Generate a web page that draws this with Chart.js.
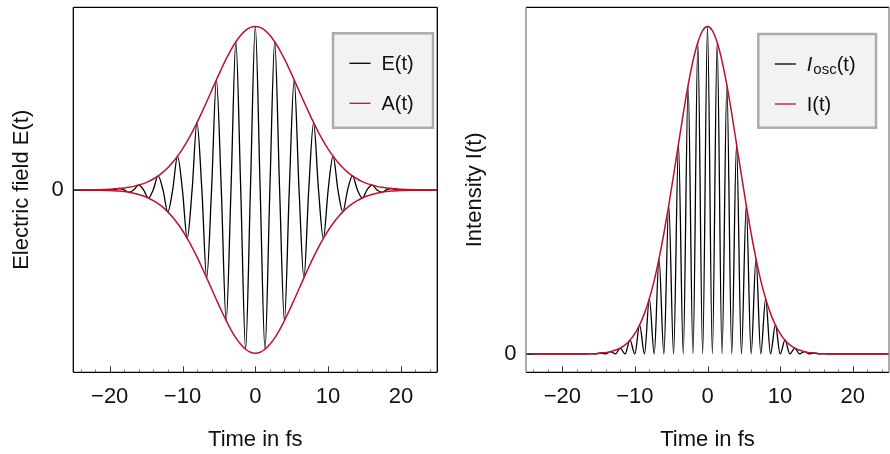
<!DOCTYPE html>
<html>
<head>
<meta charset="utf-8">
<script src="https://cdn.jsdelivr.net/npm/chart.js@4.4.1/dist/chart.umd.min.js"></script>
<style>
  html, body { margin: 0; padding: 0; background: #fff; }
  #wrap { position: relative; width: 890px; height: 454px; overflow: hidden; }
  .panel { position: absolute; top: 0; height: 454px; }
  #pL { left: 0; width: 445px; }
  #pR { left: 453px; width: 437px; }
</style>
</head>
<body>
<div id="wrap">
  <div class="panel" id="pL"><canvas id="cL"></canvas></div>
  <div class="panel" id="pR"><canvas id="cR"></canvas></div>
</div>
<script>
/* ---------------------------------------------------------------------------
 * Pulso de 10 fs: campo E(t) com envelope A(t) (esq.) e intensidade (dir.).
 * Valores: extremos e cruzamentos por zero da portadora.
 * ------------------------------------------------------------------------- */
const timeFs = [
  -25,
  -20.03, -19.36, -18.69, -18.02, -17.36, -16.69, -16.02, -15.35, -14.69, -14.02,
  -13.35, -12.68, -12.02, -11.35, -10.68, -10.01, -9.35, -8.68, -8.01, -7.34,
  -6.68, -6.01, -5.34, -4.67, -4.00, -3.34, -2.67, -2.00, -1.33, -0.67,
  0,
  0.67, 1.33, 2.00, 2.67, 3.34, 4.00, 4.67, 5.34, 6.01, 6.68,
  7.34, 8.01, 8.68, 9.35, 10.01, 10.68, 11.35, 12.02, 12.68, 13.35,
  14.02, 14.69, 15.35, 16.02, 16.69, 17.36, 18.02, 18.69, 19.36, 20.03,
  25,
];

const fieldE = [
  0,
  -0.004, 0, 0.008, 0, -0.015, 0, 0.029, 0, -0.050, 0,
  0.085, 0, -0.135, 0, 0.206, 0, -0.298, 0, 0.411, 0,
  -0.539, 0, 0.673, 0, -0.801, 0, 0.906, 0, -0.976, 0,
  1.000,
  0, -0.976, 0, 0.906, 0, -0.801, 0, 0.673, 0, -0.539,
  0, 0.411, 0, -0.298, 0, 0.206, 0, -0.135, 0, 0.085,
  0, -0.050, 0, 0.029, 0, -0.015, 0, 0.008, 0, -0.004,
  0,
];

const envelopeA = [
  0,
  0.004, 0.006, 0.008, 0.011, 0.015, 0.021, 0.029, 0.038, 0.050, 0.066,
  0.085, 0.108, 0.135, 0.168, 0.206, 0.249, 0.298, 0.352, 0.411, 0.474,
  0.539, 0.606, 0.673, 0.739, 0.801, 0.857, 0.906, 0.946, 0.976, 0.994,
  1.000,
  0.994, 0.976, 0.946, 0.906, 0.857, 0.801, 0.739, 0.673, 0.606, 0.539,
  0.474, 0.411, 0.352, 0.298, 0.249, 0.206, 0.168, 0.135, 0.108, 0.085,
  0.066, 0.050, 0.038, 0.029, 0.021, 0.015, 0.011, 0.008, 0.006, 0.004,
  0,
];

const envelopeLower = [
  0,
  -0.004, -0.006, -0.008, -0.011, -0.015, -0.021, -0.029, -0.038, -0.050, -0.066,
  -0.085, -0.108, -0.135, -0.168, -0.206, -0.249, -0.298, -0.352, -0.411, -0.474,
  -0.539, -0.606, -0.673, -0.739, -0.801, -0.857, -0.906, -0.946, -0.976, -0.994,
  -1.000,
  -0.994, -0.976, -0.946, -0.906, -0.857, -0.801, -0.739, -0.673, -0.606, -0.539,
  -0.474, -0.411, -0.352, -0.298, -0.249, -0.206, -0.168, -0.135, -0.108, -0.085,
  -0.066, -0.050, -0.038, -0.029, -0.021, -0.015, -0.011, -0.008, -0.006, -0.004,
  0,
];

const intensityOsc = [
  0,
  0, 0, 0, 0, 0, 0, 0.001, 0, 0.003, 0,
  0.007, 0, 0.018, 0, 0.042, 0, 0.089, 0, 0.169, 0,
  0.291, 0, 0.454, 0, 0.641, 0, 0.821, 0, 0.952, 0,
  1.000,
  0, 0.952, 0, 0.821, 0, 0.641, 0, 0.454, 0, 0.291,
  0, 0.169, 0, 0.089, 0, 0.042, 0, 0.018, 0, 0.007,
  0, 0.003, 0, 0.001, 0, 0, 0, 0, 0, 0,
  0,
];

const intensityI = [
  0,
  0, 0, 0, 0, 0, 0, 0.001, 0.001, 0.003, 0.004,
  0.007, 0.012, 0.018, 0.028, 0.042, 0.062, 0.089, 0.124, 0.169, 0.224,
  0.291, 0.368, 0.454, 0.546, 0.641, 0.734, 0.821, 0.895, 0.952, 0.988,
  1.000,
  0.988, 0.952, 0.895, 0.821, 0.734, 0.641, 0.546, 0.454, 0.368, 0.291,
  0.224, 0.169, 0.124, 0.089, 0.062, 0.042, 0.028, 0.018, 0.012, 0.007,
  0.004, 0.003, 0.001, 0.001, 0, 0, 0, 0, 0, 0,
  0,
];

const xMajorTicks = [-20, -10, 0, 10, 20];
const xTickLabels = ["\u221220", "\u221210", "0", "10", "20"];
const xMinorTicks = [-24, -22, -18, -16, -14, -12, -8, -6, -4, -2, 2, 4, 6, 8, 12, 14, 16, 18, 22, 24];
const yTickValues = [0];
const yTickLabels = ["0"];

const FONT = "'Liberation Sans', Arial, sans-serif";
const RED = "#b8142e";
const INK = "#111";

const pts = (ys) => timeFs.map((t, i) => ({ x: t, y: ys[i] }));

/* ------------------------------ Plugins ----------------------------------- */
const framePlugin = {
  id: "frame",
  afterDraw(chart, args, o) {
    const { ctx, chartArea: a, scales: { x, y } } = chart;
    ctx.save();
    ctx.lineWidth = 1;
    // ticks para dentro
    ctx.strokeStyle = "#888";
    for (const v of xMinorTicks) {
      const px = Math.round(x.getPixelForValue(v)) + 0.5;
      ctx.beginPath(); ctx.moveTo(px, a.bottom); ctx.lineTo(px, a.bottom - 3); ctx.stroke();
    }
    ctx.strokeStyle = "#333";
    for (const v of xMajorTicks) {
      const px = Math.round(x.getPixelForValue(v)) + 0.5;
      ctx.beginPath(); ctx.moveTo(px, a.bottom); ctx.lineTo(px, a.bottom - 6); ctx.stroke();
    }
    for (const v of yTickValues) {
      const py = Math.round(y.getPixelForValue(v)) + 0.5;
      ctx.beginPath(); ctx.moveTo(a.left, py); ctx.lineTo(a.left + 7, py); ctx.stroke();
    }
    // moldura
    ctx.lineWidth = 1.3;
    const side = (c, x1, y1, x2, y2) => {
      ctx.strokeStyle = c; ctx.beginPath(); ctx.moveTo(x1, y1); ctx.lineTo(x2, y2); ctx.stroke();
    };
    side(o.top, a.left, a.top, a.right, a.top);
    side(o.bottom, a.left, a.bottom, a.right, a.bottom);
    side(o.left, a.left, a.top, a.left, a.bottom);
    side(o.right, a.right, a.top, a.right, a.bottom);
    ctx.restore();
  },
};

const legendPlugin = {
  id: "boxLegend",
  afterDraw(chart, args, o) {
    const { ctx, chartArea: a } = chart;
    const bx = a.right - o.offsetRight - o.width;
    const by = a.top + o.offsetTop;
    ctx.save();
    ctx.fillStyle = "#f2f2f2";
    ctx.fillRect(bx, by, o.width, o.height);
    ctx.strokeStyle = "#ababab";
    ctx.lineWidth = 2.5;
    ctx.strokeRect(bx, by, o.width, o.height);
    o.items.forEach((it, i) => {
      const cy = by + 30 + i * 40;
      ctx.strokeStyle = it.color;
      ctx.lineWidth = 1.3;
      ctx.beginPath(); ctx.moveTo(bx + 16.5, cy); ctx.lineTo(bx + 37.5, cy); ctx.stroke();
      let tx = bx + 48.5;
      ctx.fillStyle = INK;
      ctx.textBaseline = "alphabetic";
      for (const p of it.parts) {
        ctx.font = `${p.italic ? "italic " : ""}${p.sub ? 15 : 20}px ${FONT}`;
        ctx.fillText(p.text, tx, cy + 7 + (p.sub ? 2.5 : 0));
        tx += ctx.measureText(p.text).width + (p.italic ? 1 : 0);
      }
    });
    ctx.restore();
  },
};

/* ------------------------------ Gráficos ---------------------------------- */
function makeChart(id, cfg) {
  const xScale = {
    type: "linear", min: -25, max: 25,
    grid: { display: false, drawTicks: false },
    border: { display: false },
    afterBuildTicks: (s) => { s.ticks = xMajorTicks.map((v) => ({ value: v })); },
    afterFit: (s) => { s.height = 81.7; s.paddingLeft = 0; s.paddingRight = 0; },
    ticks: {
      color: INK, padding: 11, font: { family: FONT, size: 22 },
      maxRotation: 0, autoSkip: false,
      callback: (v) => xTickLabels[xMajorTicks.indexOf(v)] ?? "",
    },
    title: { display: true, text: "Time in fs", color: INK, font: { family: FONT, size: 22 }, padding: { top: 0, bottom: 1 } },
  };
  const yScale = {
    type: "linear", min: cfg.yMin, max: cfg.yMax,
    grid: { display: false, drawTicks: false },
    border: { display: false },
    afterBuildTicks: (s) => { s.ticks = yTickValues.map((v) => ({ value: v })); },
    afterFit: (s) => { s.width = cfg.yWidth; s.paddingTop = 0; s.paddingBottom = 0; },
    ticks: {
      color: INK, padding: 9.5, font: { family: FONT, size: 22 },
      callback: (v) => yTickLabels[yTickValues.indexOf(v)] ?? "",
    },
    title: { display: true, text: cfg.yTitle, color: INK, font: { family: FONT, size: 22 }, padding: { top: 8.5, bottom: 0 } },
  };
  return new Chart(document.getElementById(id), {
    type: "line",
    data: { datasets: cfg.datasets },
    options: {
      responsive: true, maintainAspectRatio: false, animation: false, devicePixelRatio: 1,
      layout: { padding: { top: 7.3, right: cfg.padRight, left: 0, bottom: 0 } },
      elements: { point: { radius: 0 }, line: { cubicInterpolationMode: "monotone", borderCapStyle: "round" } },
      plugins: {
        legend: { display: false }, tooltip: { enabled: false },
        frame: cfg.frame,
        boxLegend: cfg.legend,
      },
      scales: { x: xScale, y: yScale },
    },
    plugins: [framePlugin, legendPlugin],
  });
}

makeChart("cL", {
  yMin: -1.117, yMax: 1.117, yWidth: 73.3, padRight: 7.7,
  yTitle: "Electric field E(t)",
  frame: { top: "#000", bottom: "#000", left: "#000", right: "#000" },
  legend: {
    offsetRight: 4.3, offsetTop: 26, width: 100, height: 94.5,
    items: [
      { color: "#000", parts: [{ text: "E(t)" }] },
      { color: RED, parts: [{ text: "A(t)" }] },
    ],
  },
  datasets: [
    { label: "A(t)", data: pts(envelopeA), borderColor: RED, borderWidth: 1.5 },
    { label: "-A(t)", data: pts(envelopeLower), borderColor: RED, borderWidth: 1.5 },
    { label: "E(t)", data: pts(fieldE), borderColor: "#000", borderWidth: 1.3 },
  ],
});

makeChart("cR", {
  yMin: -0.056, yMax: 1.059, yWidth: 73, padRight: 1,
  yTitle: "Intensity I(t)",
  frame: { top: "#000", bottom: "#000", left: "#808080", right: "#808080" },
  legend: {
    offsetRight: 13, offsetTop: 26.7, width: 117.7, height: 93.7,
    items: [
      { color: "#000", parts: [{ text: "I", italic: true }, { text: "osc", sub: true }, { text: "(t)" }] },
      { color: RED, parts: [{ text: "I(t)" }] },
    ],
  },
  datasets: [
    { label: "I(t)", data: pts(intensityI), borderColor: RED, borderWidth: 1.5 },
    { label: "Iosc(t)", data: pts(intensityOsc), borderColor: "#000", borderWidth: 1.3 },
  ],
});
</script>
</body>
</html>
